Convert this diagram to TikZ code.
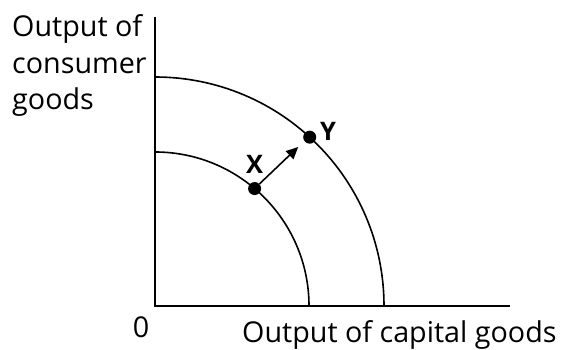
\documentclass[tikz,border=0pt]{standalone}
\usepackage{fontspec}
\setmainfont{Open Sans}
\usetikzlibrary{arrows.meta,calc}
\begin{document}
\begin{tikzpicture}[x=1pt,y=1pt,
  axisline/.style={line width=2pt},
  curve/.style={line width=1.6pt},
  dot/.style={circle,fill=black,inner sep=0pt,minimum size=13pt},
  lbl/.style={font=\fontsize{28.7}{36.5}\selectfont,inner sep=0pt},
  ptlbl/.style={font=\fontsize{25.5}{30}\selectfont\bfseries,inner sep=0pt},
  shiftarrow/.style={line width=1.6pt,-{Triangle[length=12pt,width=11pt]}}]
\useasboundingbox (0,0) rectangle (564,350);
\coordinate (O) at (155,44);
\coordinate (ytop) at (155,333);
\coordinate (xend) at (510,44);
\draw[axisline] (ytop) -- (O) -- (xend);
\draw[curve] (155,198) arc[start angle=90,end angle=0,radius=154];
\draw[curve] (155,273) arc[start angle=90,end angle=0,radius=229];
\node[dot] (X) at ($(O)+(49.7:154)$) {};
\node[dot] (Y) at ($(O)+(47.5:229)$) {};
\coordinate (tip) at ($(O)+(48:214)$);
\draw[shiftarrow] (X) -- (tip);
\node[ptlbl] (Xl) at (254.5,186) {X};
\node[ptlbl] (Yl) at (328,219) {Y};
\node[lbl,anchor=base] (zero) at (141,12.5) {0};
\node[lbl,anchor=base west] (xlab) at (242,7.5) {Output of capital goods};
\node[lbl,anchor=base west] (y1) at (12,313) {Output of};
\node[lbl,anchor=base west] (y2) at (12,276.5) {consumer};
\node[lbl,anchor=base west] (y3) at (12,240) {goods};
\end{tikzpicture}
\end{document}
